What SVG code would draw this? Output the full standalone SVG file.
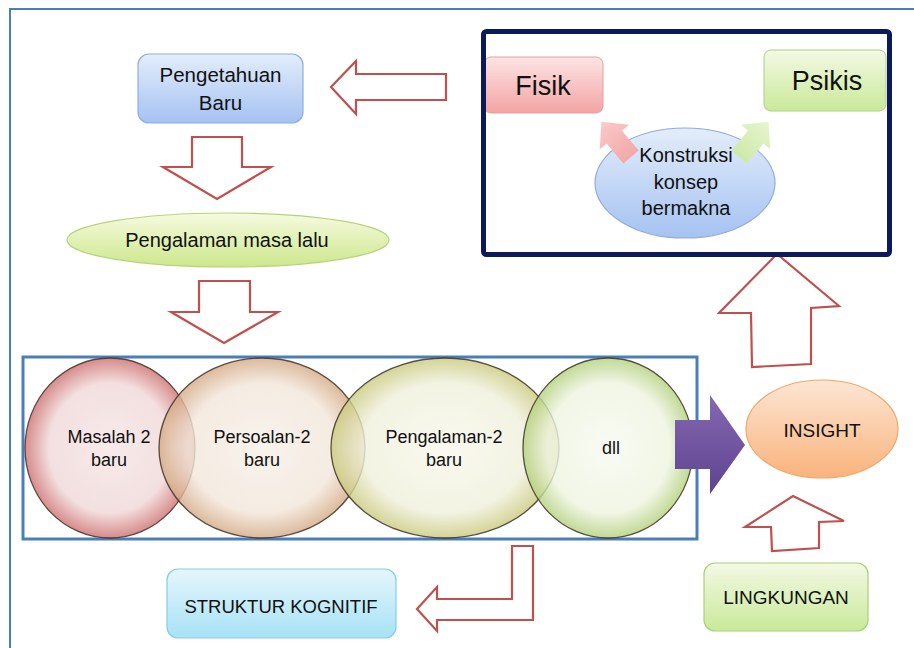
<svg xmlns="http://www.w3.org/2000/svg" width="914" height="648" viewBox="0 0 914 648">
<defs>
<style>
text{font-family:"Liberation Sans",Arial,sans-serif;fill:#111;text-anchor:middle}
.hollow{fill:#fff;stroke:#c0504d;stroke-width:2.2;stroke-linejoin:miter}
.circ{stroke:#3e3228;stroke-width:1.3;stroke-opacity:0.85}
</style>
<linearGradient id="gBlue" x1="0" y1="0" x2="0" y2="1"><stop offset="0" stop-color="#e3edfb"/><stop offset="1" stop-color="#a5c2f1"/></linearGradient>
<linearGradient id="gGreenE" x1="0" y1="0" x2="0" y2="1"><stop offset="0" stop-color="#f6fbe0"/><stop offset="1" stop-color="#cde78c"/></linearGradient>
<linearGradient id="gGreen" x1="0" y1="0" x2="0" y2="1"><stop offset="0" stop-color="#f3f9e4"/><stop offset="1" stop-color="#c9e99a"/></linearGradient>
<linearGradient id="gPink" x1="0" y1="0" x2="0" y2="1"><stop offset="0" stop-color="#fde4e4"/><stop offset="1" stop-color="#f3a4a4"/></linearGradient>
<linearGradient id="gCyan" x1="0" y1="0" x2="0" y2="1"><stop offset="0" stop-color="#e6f6fc"/><stop offset="1" stop-color="#a6e2f6"/></linearGradient>
<linearGradient id="gOrange" x1="0" y1="0" x2="0" y2="1"><stop offset="0" stop-color="#fde6d4"/><stop offset="1" stop-color="#f9b37c"/></linearGradient>
<linearGradient id="gPurple" x1="0" y1="0" x2="0" y2="1"><stop offset="0" stop-color="#8468b0"/><stop offset="1" stop-color="#5e4390"/></linearGradient>
<radialGradient id="rRed" cx="0.5" cy="0.5" r="0.5"><stop offset="0" stop-color="#f7e8e8"/><stop offset="0.72" stop-color="#f2dcdc"/><stop offset="1" stop-color="#d27f7e"/></radialGradient>
<radialGradient id="rTan" cx="0.5" cy="0.5" r="0.5"><stop offset="0" stop-color="#f7f0e8"/><stop offset="0.72" stop-color="#f2e6da"/><stop offset="1" stop-color="#d4a983"/></radialGradient>
<radialGradient id="rYel" cx="0.5" cy="0.5" r="0.5"><stop offset="0" stop-color="#f7f7ec"/><stop offset="0.72" stop-color="#f0f0dc"/><stop offset="1" stop-color="#c9c97c"/></radialGradient>
<radialGradient id="rGrn" cx="0.5" cy="0.5" r="0.5"><stop offset="0" stop-color="#f7faf0"/><stop offset="0.72" stop-color="#eef4e0"/><stop offset="1" stop-color="#b2d07a"/></radialGradient>
<linearGradient id="gSmPink" x1="0" y1="0" x2="1" y2="0"><stop offset="0" stop-color="#f3a8a8"/><stop offset="1" stop-color="#fbcaca"/></linearGradient>
<linearGradient id="gSmGreen" x1="0" y1="0" x2="1" y2="0"><stop offset="0" stop-color="#cfe9a9"/><stop offset="1" stop-color="#e6f5cf"/></linearGradient>
</defs>
<rect width="914" height="648" fill="#fff"/>
<g id="frame">
<path d="M10,648 V9 H914" fill="none" stroke="#4a7ebb" stroke-width="2"/>
</g>

<g id="connectors">
<polygon class="hollow" points="331,87 356,61 356,74 446,74 446,100 356,100 356,114"/>
<polygon class="hollow" points="192,137 242,137 242,167 271,167 217,199 163,167 192,167"/>
<polygon class="hollow" points="199,281 250,281 250,312 278,312 224,343 171,312 199,312"/>
<polygon class="hollow" points="417,609 437,587 437,599 512,599 512,546 533,546 533,620 437,620 437,631"/>
<polygon class="hollow" points="777,254 839,306 811,308 811,364 752,367 751,313 719,313"/>
<polygon class="hollow" points="793,496 844,521 819,522 819,548 772,551 771,527 745,527"/>
</g>

<g id="pengetahuan">
<rect x="138" y="54" width="165" height="69" rx="11" fill="url(#gBlue)" stroke="#8eaede" stroke-width="1.2"/>
<text x="220.5" y="82" font-size="20.5">Pengetahuan</text>
<text x="220.5" y="110" font-size="20.5">Baru</text>
</g>

<g id="pengalaman-lalu">
<ellipse cx="228" cy="240" rx="161" ry="27" fill="url(#gGreenE)" stroke="#b9d27a" stroke-width="1.2"/>
<text x="227" y="247" font-size="20">Pengalaman masa lalu</text>
</g>

<g id="struktur-box">
<rect x="23" y="357" width="674" height="182" fill="#fff" stroke="#4a7ebb" stroke-width="3"/>
</g>

<g id="masalah">
<ellipse class="circ" cx="110" cy="448" rx="85" ry="90" fill="url(#rRed)" fill-opacity="0.9"/>
</g>
<g id="persoalan">
<ellipse class="circ" cx="262" cy="448" rx="103" ry="90" fill="url(#rTan)" fill-opacity="0.8"/>
</g>
<g id="pengalaman2">
<ellipse class="circ" cx="445" cy="448" rx="114" ry="90" fill="url(#rYel)" fill-opacity="0.8"/>
</g>
<g id="dll">
<ellipse class="circ" cx="608" cy="448" rx="85" ry="90" fill="url(#rGrn)" fill-opacity="0.8"/>
</g>
<g id="circle-labels">
<text x="109" y="443" font-size="18">Masalah 2</text>
<text x="109" y="466" font-size="18">baru</text>
<text x="262" y="443" font-size="18">Persoalan-2</text>
<text x="262" y="466" font-size="18">baru</text>
<text x="444" y="443" font-size="18">Pengalaman-2</text>
<text x="444" y="466" font-size="18">baru</text>
<text x="611" y="454" font-size="18">dll</text>
</g>
<g id="purple-arrow">
<polygon points="675,420 710,420 710,395 745,445 710,494 710,469 675,469" fill="url(#gPurple)"/>
</g>

<g id="struktur-kognitif">
<rect x="167" y="569" width="229" height="69" rx="11" fill="url(#gCyan)" stroke="#86cde6" stroke-width="1.2"/>
<text x="281" y="613" font-size="18.5">STRUKTUR KOGNITIF</text>
</g>

<g id="insight">
<ellipse cx="822" cy="429" rx="76" ry="49" fill="url(#gOrange)" stroke="#f0a868" stroke-width="1.2"/>
<text x="822" y="437" font-size="19">INSIGHT</text>
</g>

<g id="lingkungan">
<rect x="704" y="563" width="164" height="68" rx="11" fill="url(#gGreen)" stroke="#a8cf7a" stroke-width="1.2"/>
<text x="786" y="604" font-size="19">LINGKUNGAN</text>
</g>

<g id="konsep-box">
<g id="fisik">
<rect x="484" y="57" width="119" height="56" rx="7" fill="url(#gPink)" stroke="#e2a0a0" stroke-width="1"/>
<text x="543" y="95" font-size="27">Fisik</text>
</g>
<g id="psikis">
<rect x="764" y="50" width="122" height="61" rx="7" fill="url(#gGreen)" stroke="#acd080" stroke-width="1"/>
<text x="827" y="90" font-size="27">Psikis</text>
</g>
<g id="konstruksi">
<ellipse cx="685" cy="183" rx="90" ry="55" fill="url(#gBlue)" stroke="#90acd8" stroke-width="1.2"/>
<polygon points="0,-10 26,-10 26,-19 46,0 26,19 26,10 0,10" fill="url(#gSmPink)" transform="translate(631,157) rotate(-130)"/>
<polygon points="0,-10 26,-10 26,-19 46,0 26,19 26,10 0,10" fill="url(#gSmGreen)" transform="translate(739,157) rotate(-50)"/>
<text x="686" y="162" font-size="20">Konstruksi</text>
<text x="686" y="189" font-size="20">konsep</text>
<text x="686" y="215" font-size="20">bermakna</text>
</g>
<rect x="483.5" y="31.5" width="406" height="223" rx="3" fill="none" stroke="#0c1a5a" stroke-width="5"/>
</g>
</svg>
